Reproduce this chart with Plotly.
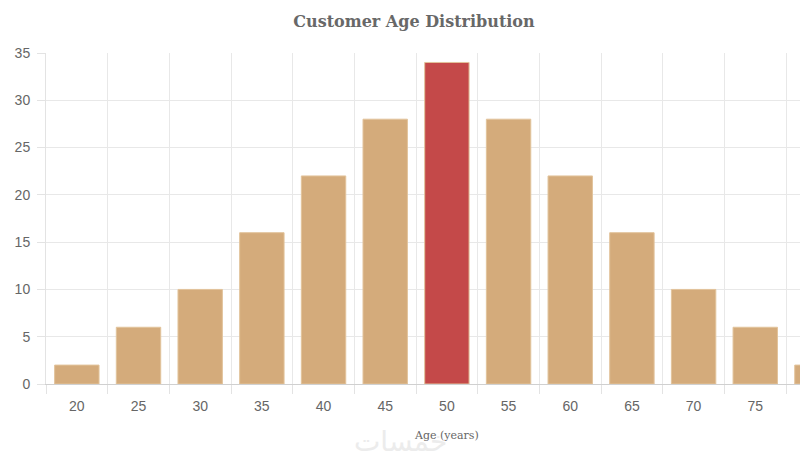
import plotly.graph_objects as go

ages = ["20", "25", "30", "35", "40", "45", "50", "55", "60", "65", "70", "75", "80"]
customers = [2, 6, 10, 16, 22, 28, 34, 28, 22, 16, 10, 6, 2]
y_ticks = [0, 5, 10, 15, 20, 25, 30, 35]

TAN = "#D4AB7B"
RED = "#C44949"
colors = [RED if a == "50" else TAN for a in ages]
line_colors = ["#E2C39B" for a in ages]

W, H = 800, 460
left, top, bottom_px = 45.7, 52.7, 384
cat_w = 61.7
x_max = (W - left) / cat_w - 0.5


def px(xs):
    return (xs - left) / (W - left)


def py(ys):
    return (bottom_px - ys) / (bottom_px - top)


fig = go.Figure(go.Bar(
    x=ages, y=customers,
    marker=dict(color=colors, line=dict(color=line_colors, width=1)),
    width=0.72,
    cliponaxis=True,
    hoverinfo="x+y",
))

fig.update_layout(
    width=W, height=H,
    margin=dict(l=left, r=0, t=top, b=H - bottom_px, pad=0),
    paper_bgcolor="white", plot_bgcolor="white",
    showlegend=False,
    title=dict(text="<b>Customer Age Distribution</b>", x=414 / W, xanchor="center",
               y=1 - 21 / H, yanchor="middle",
               font=dict(family="DejaVu Serif", size=16, color="#686868")),
    font=dict(family="Liberation Sans, Arial, sans-serif", size=14, color="#666666"),
)

fig.update_xaxes(
    type="category", range=[-0.5, x_max],
    tickson="boundaries", ticks="outside", ticklen=9, tickcolor="#E3E3E3", tickwidth=1,
    showgrid=True, gridcolor="#E8E8E8", gridwidth=1,
    showline=True, linecolor="#D0D0D0", linewidth=1,
    tickfont=dict(size=14, color="#666666"),
    ticklabelstandoff=9,
    fixedrange=True,
)
fig.update_yaxes(
    range=[0, 35], tickvals=y_ticks,
    ticks="outside", ticklen=8, tickcolor="#E3E3E3", tickwidth=1,
    showgrid=True, gridcolor="#E8E8E8", gridwidth=1,
    zeroline=False, showline=True, linecolor="#E3E3E3",
    tickfont=dict(size=14, color="#666666"),
    ticklabelstandoff=4,
    fixedrange=True,
)

fig.add_annotation(text="خمسات", xref="paper", yref="paper",
                   x=px(400), y=py(442), xanchor="center", yanchor="middle",
                   showarrow=False, font=dict(family="DejaVu Sans", size=28, color="#ECECEC"))
fig.add_annotation(text="Age (years)", xref="paper", yref="paper",
                   x=px(446.7), y=py(436), xanchor="center", yanchor="middle",
                   showarrow=False, font=dict(family="DejaVu Serif", size=11, color="#666666"))

fig.write_html(
    "out.html",
    config={"displayModeBar": False},
    post_script="document.body.style.margin='0';document.body.style.overflow='hidden';",
)
